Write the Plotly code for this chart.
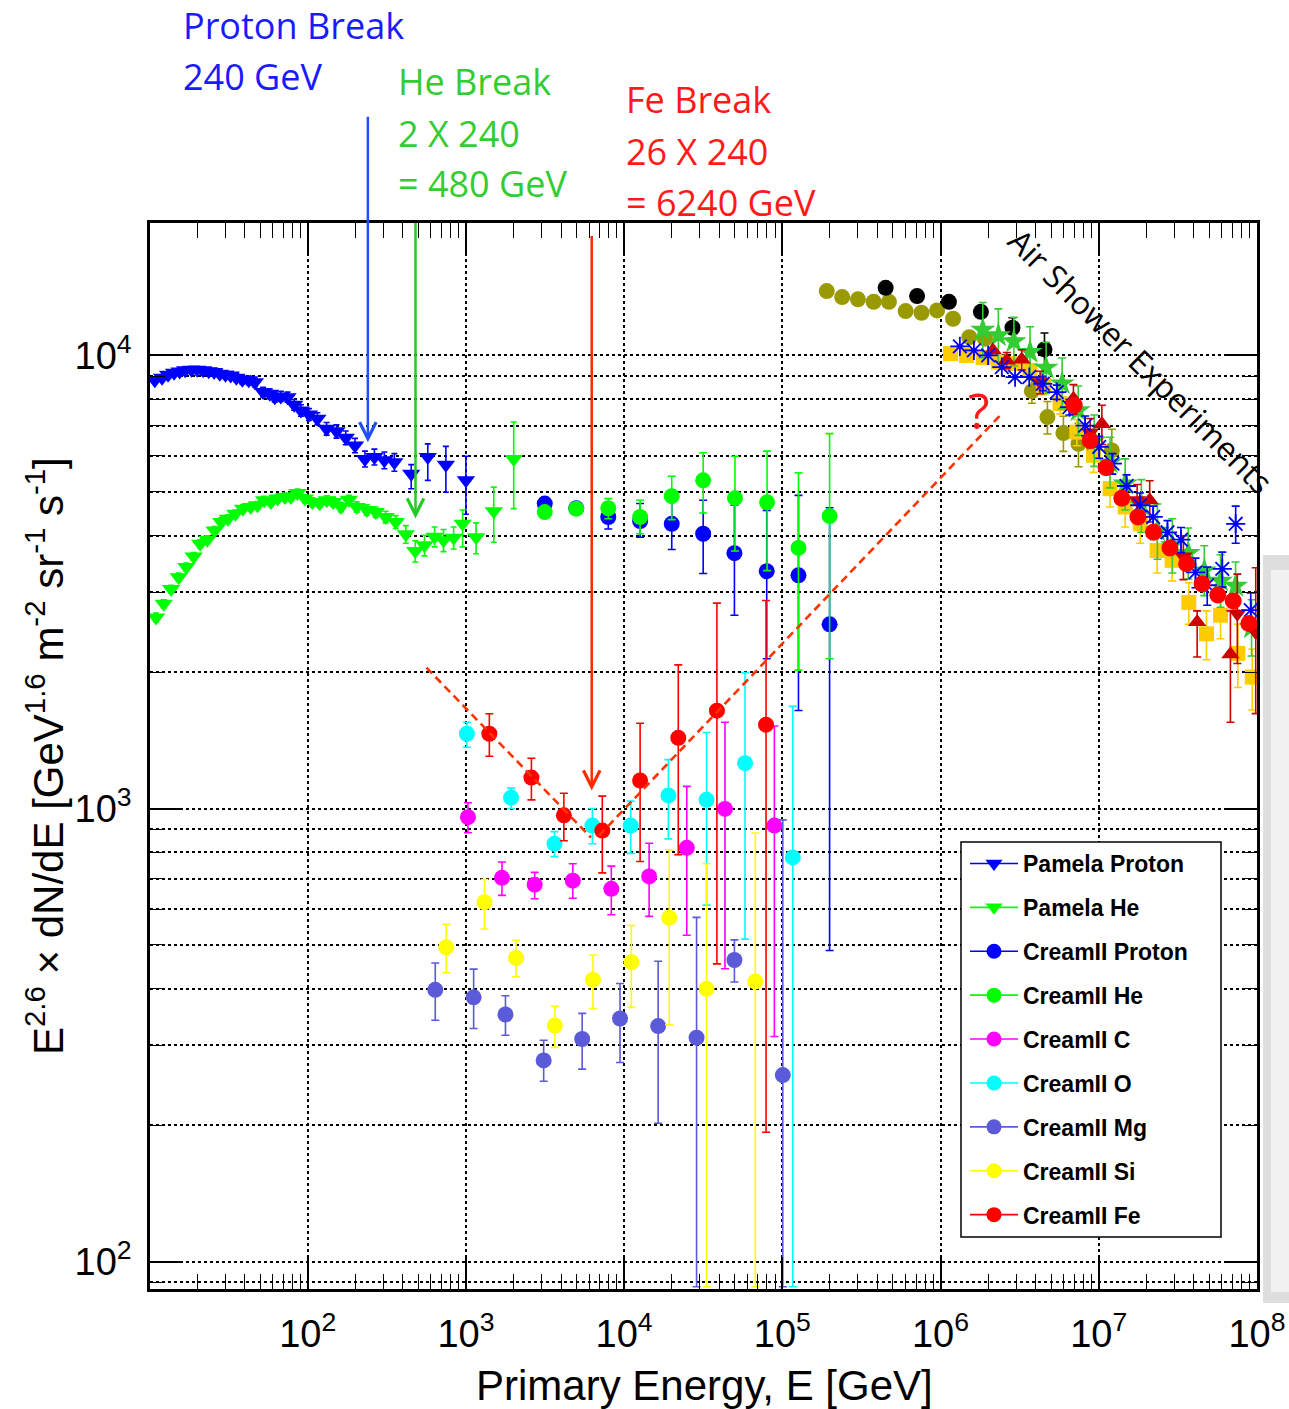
import math
import plotly.graph_objects as go

# ---------------- data ----------------
# PAMELA proton and helium spectra (E^2.6 weighted flux)
pam_p_E = [10.8, 12.0, 13.1, 14.3, 15.5, 16.8, 18.4, 20.0, 21.8, 23.7, 25.6, 27.8, 30.2, 32.6,
           35.4, 38.6, 42.4, 46.3, 52.2, 57.6, 61.9, 67.6, 74.5, 82.1, 90.6, 101.8, 115, 131.6,
           152, 174, 199, 230, 264, 305, 353, 451, 574, 747, 1000]
pam_p_V = [8810, 8930, 9060, 9160, 9220, 9270, 9300, 9300, 9270, 9230, 9190, 9110, 9060, 9030,
           8930, 8840, 8810, 8730, 8300, 8230, 8090, 8120, 8090, 7780, 7560, 7410, 7250, 6890,
           6800, 6580, 6330, 5910, 5970, 5870, 5810, 5480, 5970, 5740, 5300]
pam_p_up = [130, 130, 130, 140, 140, 150, 150, 150, 160, 160, 160, 170, 170, 180, 180, 190, 190,
            200, 200, 200, 200, 210, 210, 210, 220, 220, 220, 220, 230, 230, 230, 240, 240, 250,
            260, 260, 410, 560, 690]
pam_p_dn = [130, 130, 130, 140, 140, 150, 150, 150, 160, 160, 160, 170, 170, 180, 180, 190, 190,
            200, 200, 200, 200, 210, 210, 210, 220, 220, 220, 220, 230, 230, 230, 240, 240, 250,
            260, 400, 670, 750, 840]

pam_he_E = [11.0, 12.3, 13.7, 15.3, 17.1, 19.0, 20.9, 23.2, 25.8, 28.4, 31.3, 34.9, 39.0, 43.6,
            48.1, 53.0, 58.4, 64.4, 71.7, 78.2, 86.1, 96, 107, 119, 132, 145, 162, 182, 204, 236,
            269, 311, 360, 417, 478, 547, 634, 722, 836, 953, 1160, 1500, 2005]
pam_he_V = [2640, 2830, 3050, 3240, 3410, 3600, 3840, 3920, 4110, 4290, 4360, 4470, 4590, 4630,
            4670, 4790, 4750, 4830, 4870, 4870, 4970, 4830, 4750, 4720, 4790, 4750, 4630, 4800,
            4630, 4560, 4510, 4400, 4290, 4030, 3700, 3810, 3980, 3910, 3960, 4250, 3970, 4530, 5910]
pam_he_up = [60, 60, 60, 70, 70, 70, 80, 80, 80, 90, 90, 90, 90, 90, 90, 100, 100, 100, 100, 100,
             100, 100, 100, 100, 110, 110, 110, 110, 120, 120, 120, 130, 140, 180, 200, 200, 200,
             220, 220, 310, 300, 590, 1220]
pam_he_dn = [60, 60, 60, 70, 70, 70, 80, 80, 80, 90, 90, 90, 90, 90, 90, 100, 100, 100, 100, 100,
             100, 100, 100, 100, 110, 110, 110, 110, 120, 120, 120, 130, 140, 180, 200, 200, 200,
             220, 220, 470, 320, 660, 1320]

# CREAM-II: energies, values, upper and lower error limits
cr_p_E = [3150, 4980, 7940, 12620, 20000, 31600, 49800, 79700, 126500, 199000]
cr_p_V = [4710, 4600, 4400, 4310, 4250, 4040, 3660, 3340, 3270, 2550]
cr_p_hi = [4800, 4690, 4670, 4710, 4790, 4790, 4670, 4550, 4910, 4610]
cr_p_lo = [4620, 4510, 4140, 3970, 3730, 3300, 2670, 2140, 1645, 486]

cr_he_E = [3150, 4980, 7940, 12620, 20000, 31600, 50200, 80100, 126500, 199000]
cr_he_V = [4510, 4590, 4600, 4400, 4890, 5300, 4840, 4740, 3760, 4420]
cr_he_hi = [4600, 4680, 4830, 4790, 5410, 6100, 5990, 6150, 5510, 6720]
cr_he_lo = [4420, 4500, 4360, 4040, 4340, 4490, 3700, 3350, 2020, 2140]

cr_c_E = [1030, 1690, 2720, 4740, 8300, 14390, 24900, 43400, 89100]
cr_c_V = [957, 703, 679, 693, 665, 708, 819, 998, 917]
cr_c_hi = [1030, 762, 723, 755, 746, 838, 1119, 1550, 1521]
cr_c_lo = [884, 643, 632, 634, 583, 578, 525, 443, 314]

cr_o_E = [1014, 1929, 3630, 6300, 11010, 19050, 33200, 58100, 116400]
cr_o_V = [1462, 1057, 836, 917, 917, 1069, 1045, 1259, 780]
cr_o_hi = [1550, 1109, 889, 1000, 1038, 1282, 1472, 1995, 1680]
cr_o_lo = [1365, 1000, 783, 836, 796, 857, 612, 515, 88]

cr_mg_E = [640, 1119, 1778, 3100, 5430, 9420, 16410, 28700, 49800, 100700]
cr_mg_V = [398, 383, 351, 278, 310, 344, 331, 312, 463, 258]
cr_mg_hi = [456, 442, 386, 308, 353, 411, 460, 575, 513, 944]
cr_mg_lo = [341, 327, 316, 250, 266, 275, 202, 88, 414, 88]

cr_si_E = [751, 1310, 2075, 3650, 6350, 11120, 19280, 33200, 67500]
cr_si_V = [494, 621, 468, 332, 419, 458, 574, 400, 415]
cr_si_hi = [555, 697, 512, 366, 475, 552, 811, 755, 883]
cr_si_lo = [434, 542, 425, 297, 362, 364, 333, 88, 88]

cr_fe_E = [1406, 2594, 4160, 7280, 12620, 22000, 38600, 78900]
cr_fe_V = [1462, 1170, 966, 894, 1153, 1432, 1644, 1531]
cr_fe_hi = [1618, 1291, 1081, 1065, 1542, 2075, 2840, 2878]
cr_fe_lo = [1304, 1045, 849, 721, 764, 791, 454, 193]

# Air shower experiments (all-particle spectra)
as_olive_E = [1.91e5, 2.39e5, 3.006e5, 3.778e5, 4.72e5, 6.02e5, 7.58e5, 9.51e5, 1.20e6, 1.52e6,
              1.91e6, 3.78e6, 4.74e6, 5.98e6, 7.45e6, 1.21e7]
as_olive_V = [13870, 13450, 13300, 13130, 13130, 12530, 12420, 12570, 12050, 10970, 10890, 8340,
              7310, 6740, 6380, 6170]
as_olive_err = [0, 0, 0, 0, 0, 0, 0, 0, 0, 0, 0, 500, 600, 600, 700, 700]

as_black_E = [4.50e5, 7.11e5, 1.13e6, 1.80e6, 2.85e6, 4.54e6]
as_black_V = [14100, 13520, 13130, 12480, 11510, 10310]
as_black_err = [0, 0, 0, 0, 600, 900]

as_gold_E = [1.156e6, 1.46e6, 1.86e6, 2.32e6, 2.88e6, 3.68e6, 4.47e6, 5.70e6, 7.27e6, 9.27e6,
             1.18e7, 1.47e7, 1.83e7, 2.34e7, 2.91e7, 3.71e7, 4.80e7, 5.89e7, 7.58e7, 9.35e7]
as_gold_V = [10090, 10000, 9890, 9665, 9590, 9270, 8590, 7830, 6770, 6020, 5080, 4630, 4250,
             3710, 3530, 2850, 2430, 2670, 2200, 1950]
as_gold_err = [0, 0, 0, 0, 0, 0, 400, 400, 450, 500, 450, 450, 400, 400, 350, 300, 300, 300,
               350, 300]

as_ast_E = [1.325e6, 1.625e6, 2.00e6, 2.44e6, 2.96e6, 3.64e6, 4.43e6, 5.43e6, 6.53e6, 8.21e6,
            1.007e7, 1.22e7, 1.50e7, 1.82e7, 2.21e7, 2.72e7, 3.31e7, 4.09e7, 4.85e7, 6.04e7,
            7.34e7, 9.14e7]
as_ast_V = [10470, 10260, 10000, 9420, 8960, 8960, 8660, 8300, 7690, 7000, 6280, 5770, 5150,
            4670, 4400, 4070, 3920, 3320, 3110, 3380, 4250, 2740]
as_ast_err = [0, 0, 0, 0, 0, 0, 300, 300, 300, 350, 350, 300, 300, 300, 250, 250, 250, 250,
              300, 300, 400, 250]

as_star_E = [1.85e6, 2.32e6, 2.91e6, 3.68e6, 4.65e6, 5.87e6, 7.42e6, 9.37e6, 1.18e7, 1.47e7,
             1.86e7, 2.35e7, 2.92e7, 3.68e7, 4.65e7, 5.89e7, 7.33e7, 9.25e7]
as_star_V = [11390, 11070, 10740, 10170, 9390, 8670, 7560, 6490, 5800, 5210, 4670, 4100, 3810,
             3660, 3350, 3180, 3100, 2510]
as_star_up = [1700, 1600, 1400, 1400, 1300, 1200, 1000, 900, 800, 700, 650, 600, 550, 500, 450,
              450, 400, 380]
as_star_dn = [1500, 1400, 1250, 1250, 1150, 1050, 900, 800, 700, 650, 600, 550, 500, 450, 400,
              400, 360, 340]

as_tri_up_E = [2.14e6, 2.62e6, 3.26e6, 6.92e6, 1.047e7, 2.10e7, 4.19e7, 6.80e7]
as_tri_up_V = [10260, 9750, 9790, 8020, 7060, 4790, 2580, 2190]
as_tri_up_up = [0, 400, 500, 600, 700, 500, 150, 540]
as_tri_up_dn = [0, 400, 500, 600, 700, 500, 420, 640]

as_tri_dn_E = [4.26e6, 8.83e6, 1.75e7, 3.43e7, 7.52e7, 9.83e7]
as_tri_dn_V = [8730, 6760, 4790, 3600, 2690, 2450]
as_tri_dn_up = [500, 500, 400, 400, 600, 950]
as_tri_dn_dn = [500, 500, 400, 400, 600, 830]

as_red_E = [7.00e6, 8.83e6, 1.114e7, 1.40e7, 1.77e7, 2.22e7, 2.82e7, 3.59e7, 4.51e7, 5.66e7,
            7.08e7, 8.89e7]
as_red_V = [7760, 6490, 5650, 4840, 4400, 4070, 3760, 3470, 3130, 2960, 2870, 2560]

# Dashed guide through the Fe points (two arms of a "V")
fe_guide_E = [563, 6170, None, 6930, 2.48e6]
fe_guide_V = [2046, 863, None, 871, 7480]

# Break energies and where the arrows point
break_E = [240, 480, 6240]
break_V = [6430, 4365, 1096]

# ---------------- figure ----------------
W, H = 1289, 1409
ML, MR, MT, MB = 150, 32, 223, 120
PW, PH = W - ML - MR, H - MT - MB


def px_x(px):
    return (px - ML) / PW


def px_y(py):
    return (H - MB - py) / PH


fig = go.Figure()


def err_bounds(v, hi, lo, color, width=4):
    return dict(type="data", symmetric=False,
                array=[h - y for h, y in zip(hi, v)],
                arrayminus=[y - l for l, y in zip(lo, v)],
                color=color, thickness=1.6, width=width)


def err_pm(up, dn, color, width=4):
    return dict(type="data", symmetric=False, array=up, arrayminus=dn,
                color=color, thickness=1.6, width=width)


def add_pts(x, y, color, symbol, size, error=None, line=None):
    mk = dict(color=color, symbol=symbol, size=size, line=line or dict(width=0))
    fig.add_trace(go.Scatter(x=x, y=y, mode="markers", marker=mk, error_y=error,
                             showlegend=False, hoverinfo="x+y"))


# air shower experiments
add_pts(as_olive_E, as_olive_V, "#999900", "circle", 16,
        err_pm(as_olive_err, as_olive_err, "#999900"))
add_pts(as_black_E, as_black_V, "#000000", "circle", 16,
        err_pm(as_black_err, as_black_err, "#000000"))
add_pts(as_gold_E, as_gold_V, "#ffcc00", "square", 15,
        err_pm(as_gold_err, as_gold_err, "#ffcc00"))
add_pts(as_star_E, as_star_V, "#33cc33", "star", 19,
        err_pm(as_star_up, as_star_dn, "#33cc33"))
add_pts(as_tri_up_E, as_tri_up_V, "#cc0000", "triangle-up", 16,
        err_pm(as_tri_up_up, as_tri_up_dn, "#cc0000"))
add_pts(as_tri_dn_E, as_tri_dn_V, "#cc0000", "triangle-down", 16,
        err_pm(as_tri_dn_up, as_tri_dn_dn, "#cc0000"))
add_pts(as_ast_E, as_ast_V, "#0000ff", "asterisk-open", 16,
        err_pm(as_ast_err, as_ast_err, "#0000ff"),
        line=dict(color="#0000ff", width=1.8))
add_pts(as_red_E, as_red_V, "#ff0000", "circle", 17)

# direct measurements
series = [
    ("Pamela Proton", "#0000ff", "triangle-down"),
    ("Pamela He", "#00ff00", "triangle-down"),
    ("CreamII Proton", "#0000ff", "circle"),
    ("CreamII He", "#00ff00", "circle"),
    ("CreamII C", "#ff00ff", "circle"),
    ("CreamII O", "#00ffff", "circle"),
    ("CreamII Mg", "#5b5bd9", "circle"),
    ("CreamII Si", "#ffff00", "circle"),
    ("CreamII Fe", "#ff0000", "circle"),
]
col = {n: c for n, c, s in series}

add_pts(pam_p_E, pam_p_V, col["Pamela Proton"], "triangle-down", 16,
        err_pm(pam_p_up, pam_p_dn, col["Pamela Proton"], 3))
add_pts(pam_he_E, pam_he_V, col["Pamela He"], "triangle-down", 16,
        err_pm(pam_he_up, pam_he_dn, col["Pamela He"], 3))
add_pts(cr_p_E, cr_p_V, col["CreamII Proton"], "circle", 16,
        err_bounds(cr_p_V, cr_p_hi, cr_p_lo, col["CreamII Proton"]))
add_pts(cr_he_E, cr_he_V, col["CreamII He"], "circle", 16,
        err_bounds(cr_he_V, cr_he_hi, cr_he_lo, col["CreamII He"]))
add_pts(cr_c_E, cr_c_V, col["CreamII C"], "circle", 16,
        err_bounds(cr_c_V, cr_c_hi, cr_c_lo, col["CreamII C"]))
add_pts(cr_o_E, cr_o_V, col["CreamII O"], "circle", 16,
        err_bounds(cr_o_V, cr_o_hi, cr_o_lo, col["CreamII O"]))
add_pts(cr_mg_E, cr_mg_V, col["CreamII Mg"], "circle", 16,
        err_bounds(cr_mg_V, cr_mg_hi, cr_mg_lo, col["CreamII Mg"]))
add_pts(cr_si_E, cr_si_V, col["CreamII Si"], "circle", 16,
        err_bounds(cr_si_V, cr_si_hi, cr_si_lo, col["CreamII Si"]))
add_pts(cr_fe_E, cr_fe_V, col["CreamII Fe"], "circle", 16,
        err_bounds(cr_fe_V, cr_fe_hi, cr_fe_lo, col["CreamII Fe"]))

# dashed red guide line
fig.add_trace(go.Scatter(x=fe_guide_E, y=fe_guide_V, mode="lines", showlegend=False,
                         line=dict(color="#ff3300", width=2.6, dash="8px,5px"),
                         hoverinfo="skip", connectgaps=False))

# legend entries (line + marker samples)
for i, (name, c, sym) in enumerate(series):
    fig.add_trace(go.Scatter(x=[None], y=[None], mode="lines+markers", name=name,
                             legendgroup=f"g{i}",
                             line=dict(color=c, width=1.6),
                             marker=dict(color=c, symbol=sym, size=15, line=dict(width=0))))

# ---------------- axes ----------------
x_major = [10 ** k for k in range(2, 9)]
x_minor = [m * 10 ** k for k in range(1, 8) for m in range(2, 10)]
y_major = [100, 1000, 10000]
y_minor = [m * 10 ** k for k in range(1, 5) for m in range(2, 10)]

axis_common = dict(type="log", showline=True, linecolor="black", linewidth=2.5,
                   mirror="allticks", ticks="inside", tickcolor="black", tickwidth=1.5,
                   ticklen=32, showgrid=True, gridcolor="black", griddash="dot",
                   gridwidth=1.5, zeroline=False, automargin=False,
                   tickfont=dict(family="Liberation Sans, Arial", size=38, color="black"))

fig.update_xaxes(**axis_common, range=[1.003, 8.0005], tickmode="array", tickvals=x_major,
                 ticktext=[f"10<sup>{k}</sup>" for k in range(2, 9)], ticklabelstandoff=10,
                 minor=dict(tickmode="array", tickvals=x_minor, ticks="inside", ticklen=15,
                            tickcolor="black", tickwidth=1.3, showgrid=False))
fig.update_yaxes(**axis_common, range=[math.log10(87), math.log10(19600)], tickmode="array",
                 tickvals=y_major, ticktext=["10<sup>2</sup>", "10<sup>3</sup>", "10<sup>4</sup>"],
                 ticklabelstandoff=8,
                 minor=dict(tickmode="array", tickvals=y_minor, ticks="inside", ticklen=15,
                            tickcolor="black", tickwidth=1.3, showgrid=True, gridcolor="black",
                            griddash="dot", gridwidth=1.5))

# ---------------- annotations ----------------
ann = []
title_font = dict(family="Liberation Sans, Arial", size=42, color="black")
ann.append(dict(text="Primary Energy, E [GeV]", xref="paper", yref="paper",
                x=px_x(704), y=px_y(1385), xanchor="center", yanchor="middle",
                showarrow=False, font=title_font))
ann.append(dict(text="E<sup>2.6</sup> × dN/dE [GeV<sup>1.6</sup> m<sup>-2</sup> sr<sup>-1</sup> "
                     "s<sup>-1</sup>]",
                xref="paper", yref="paper", x=px_x(45), y=px_y(756), xanchor="center",
                yanchor="middle", showarrow=False, textangle=-90, font=title_font))

label_font = "Open Sans, Noto Sans, sans-serif"
blocks = [
    (["Proton Break", "240 GeV"], 181, [25, 77], "#1a1aff"),
    (["He Break", "2 X 240", "= 480 GeV"], 396, [82, 133, 184], "#33cc33"),
    (["Fe Break", "26 X 240", "= 6240 GeV"], 624, [100, 151, 202], "#ff1a1a"),
]
for lines, x0, ys, c in blocks:
    for t, yy in zip(lines, ys):
        ann.append(dict(text=t, xref="paper", yref="paper", x=px_x(x0), y=px_y(yy),
                        xanchor="left", yanchor="middle", showarrow=False,
                        font=dict(family=label_font, size=36, color=c)))

# arrows marking the break energies
arrow_cols = ["#1f4fff", "#22cc22", "#ff2a00"]
arrow_len = [327, 297, 556]
for e, v, c, L in zip(break_E, break_V, arrow_cols, arrow_len):
    ann.append(dict(text="", x=math.log10(e), y=math.log10(v), xref="x", yref="y",
                    showarrow=True, ax=0, ay=-L, arrowhead=5, arrowsize=1.3,
                    arrowwidth=2.5, arrowcolor=c, standoff=0))

ann.append(dict(text="?", xref="paper", yref="paper", x=px_x(979), y=px_y(410),
                xanchor="center", yanchor="middle", showarrow=False,
                font=dict(family=label_font, size=50, color="#ff1a1a")))
ann.append(dict(text="Air Shower Experiments", xref="paper", yref="paper",
                x=px_x(1141), y=px_y(360), xanchor="center", yanchor="middle",
                showarrow=False, textangle=45,
                font=dict(family=label_font, size=32, color="black")))

shapes = [
    # panel at the right edge
    dict(type="rect", xref="paper", yref="paper", x0=px_x(1263), x1=px_x(1300),
         y0=px_y(1303), y1=px_y(555), fillcolor="#dedede", line=dict(width=0), layer="below"),
    dict(type="rect", xref="paper", yref="paper", x0=px_x(1271), x1=px_x(1300),
         y0=px_y(1292), y1=px_y(570), fillcolor="#f1f1f1", line=dict(width=0), layer="below"),
    # legend frame
    dict(type="rect", xref="paper", yref="paper", x0=px_x(961), x1=px_x(1221),
         y0=px_y(1237), y1=px_y(842), fillcolor="white",
         line=dict(color="black", width=1.5), layer="above"),
]

fig.update_layout(
    width=W, height=H, margin=dict(l=ML, r=MR, t=MT, b=MB, autoexpand=False),
    paper_bgcolor="white", plot_bgcolor="white",
    annotations=ann, shapes=shapes,
    legend=dict(x=px_x(965), y=px_y(842), xanchor="left", yanchor="top",
                bgcolor="rgba(0,0,0,0)", borderwidth=0,
                font=dict(family="Liberation Sans, Arial", size=23, color="black", weight="bold"),
                tracegroupgap=11, itemwidth=48),
)

fig.write_html("out.html")
